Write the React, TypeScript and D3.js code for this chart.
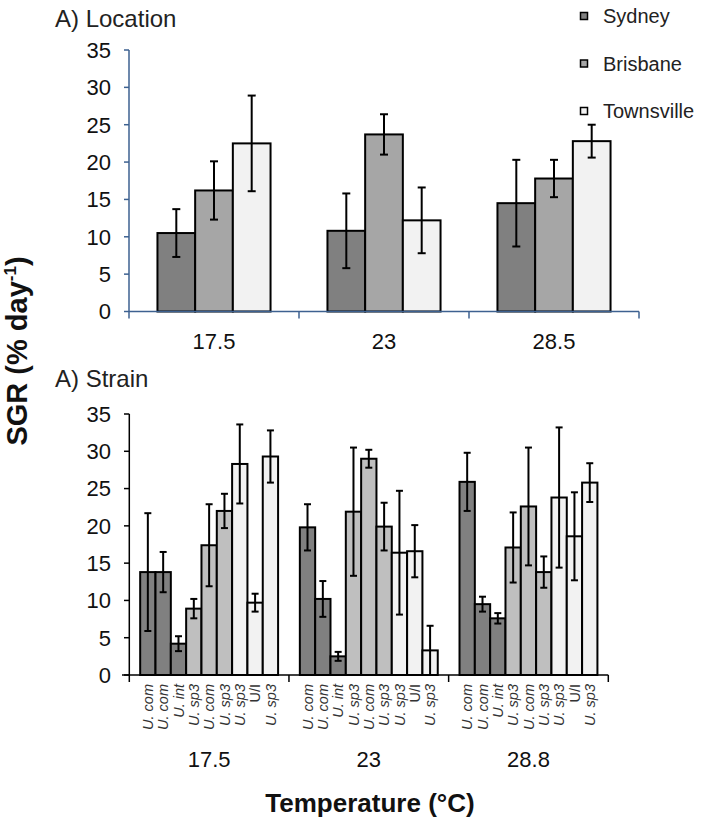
import React from "react";
import * as d3 from "d3";

// ---------- Data ----------
const tempGroupsTop = ["17.5", "23", "28.5"];
const locations = ["Sydney", "Brisbane", "Townsville"];
const sydneyMean = [10.5, 10.8, 14.5];
const sydneyErr = [3.2, 5.0, 5.8];
const brisbaneMean = [16.2, 23.7, 17.8];
const brisbaneErr = [3.9, 2.7, 2.5];
const townsvilleMean = [22.5, 12.2, 22.8];
const townsvilleErr = [6.4, 4.4, 2.2];

const tempGroupsBottom = ["17.5", "23", "28.8"];
const strainLabels = ["U. com", "U. com", "U. int", "U. sp3", "U. com", "U. sp3", "U. sp3", "U/I", "U. sp3"];
const strainOrigin = ["Sydney", "Sydney", "Sydney", "Brisbane", "Brisbane", "Brisbane", "Townsville", "Townsville", "Townsville"];
const strainMean175 = [13.8, 13.8, 4.2, 8.9, 17.4, 22.0, 28.3, 9.7, 29.3];
const strainErr175 = [7.9, 2.7, 1.0, 1.3, 5.5, 2.3, 5.3, 1.2, 3.5];
const strainMean23 = [19.8, 10.2, 2.5, 21.9, 29.0, 19.9, 16.4, 16.6, 3.3];
const strainErr23 = [3.1, 2.4, 0.6, 8.6, 1.2, 3.2, 8.3, 3.5, 3.3];
const strainMean288 = [25.9, 9.5, 7.6, 17.1, 22.6, 13.8, 23.8, 18.6, 25.8];
const strainErr288 = [3.9, 1.0, 0.7, 4.7, 7.9, 2.1, 9.4, 5.9, 2.6];

const yTicks = [0, 5, 10, 15, 20, 25, 30, 35];

const FONT = "'Liberation Sans', Arial, Helvetica, sans-serif";

export default function App() {
  const topColors: Record<string, string> = { Sydney: "#808080", Brisbane: "#a6a6a6", Townsville: "#f2f2f2" };
  const botColors: Record<string, string> = { Sydney: "#808080", Brisbane: "#bfbfbf", Townsville: "#f2f2f2" };

  // ---- top chart scales ----
  const xTop = d3.scaleBand().domain(tempGroupsTop).range([129, 639]).paddingInner(0).paddingOuter(0);
  const xTopInner = d3.scaleBand().domain(locations).range([0, xTop.bandwidth()]).paddingInner(0).paddingOuter(0.755);
  const yTop = d3.scaleLinear().domain([0, 35]).range([311.5, 50]);
  const topMeans = [sydneyMean, brisbaneMean, townsvilleMean];
  const topErrs = [sydneyErr, brisbaneErr, townsvilleErr];
  const topData = tempGroupsTop.flatMap((g, gi) =>
    locations.map((loc, li) => ({ g, loc, mean: topMeans[li][gi], err: topErrs[li][gi] }))
  );

  // ---- bottom chart scales ----
  const xBot = d3.scaleBand().domain(tempGroupsBottom).range([129.3, 608.3]).paddingInner(0).paddingOuter(0);
  const strainIdx = strainLabels.map((_, i) => String(i));
  const xBotInner = d3.scaleBand().domain(strainIdx).range([0, xBot.bandwidth()]).paddingInner(0).paddingOuter(0.71);
  const yBot = d3.scaleLinear().domain([0, 35]).range([675, 414]);
  const botMeans = [strainMean175, strainMean23, strainMean288];
  const botErrs = [strainErr175, strainErr23, strainErr288];
  const botData = tempGroupsBottom.flatMap((g, gi) =>
    strainIdx.map((s, si) => ({ g, s, si, mean: botMeans[gi][si], err: botErrs[gi][si] }))
  );

  const axisTop = "#3d6190";

  return (
    <svg width={702} height={834} style={{ position: "absolute", left: 0, top: 0, background: "#fff" }} fontFamily={FONT}>
      <rect x={0} y={0} width={702} height={834} fill="#fff" />

      {/* ===== Top chart ===== */}
      <text x={55} y={27} fontSize={24} fill="#222">A) Location</text>

      {/* bars */}
      {topData.map((d, i) => {
        const x = (xTop(d.g) as number) + (xTopInner(d.loc) as number);
        const w = xTopInner.bandwidth();
        return (
          <rect key={"tb" + i} x={x} y={yTop(d.mean)} width={w} height={yTop(0) - yTop(d.mean)}
            fill={topColors[d.loc]} stroke="#000" strokeWidth={2} />
        );
      })}
      {/* error bars */}
      {topData.map((d, i) => {
        const cx = (xTop(d.g) as number) + (xTopInner(d.loc) as number) + xTopInner.bandwidth() / 2;
        const y1 = yTop(d.mean + d.err);
        const y2 = yTop(d.mean - d.err);
        return (
          <g key={"te" + i} stroke="#000" strokeWidth={2}>
            <line x1={cx} x2={cx} y1={y1} y2={y2} />
            <line x1={cx - 4} x2={cx + 4} y1={y1} y2={y1} />
            <line x1={cx - 4} x2={cx + 4} y1={y2} y2={y2} />
          </g>
        );
      })}
      {/* y axis */}
      <line x1={129} x2={129} y1={yTop(35)} y2={yTop(0)} stroke={axisTop} strokeWidth={1.5} />
      {yTicks.map((t) => (
        <g key={"tyt" + t}>
          <line x1={124} x2={129} y1={yTop(t)} y2={yTop(t)} stroke={axisTop} strokeWidth={1.5} />
          <text x={111} y={yTop(t)} dy="0.36em" textAnchor="end" fontSize={22} fill="#111">{t}</text>
        </g>
      ))}
      {/* x axis */}
      <line x1={129} x2={639} y1={yTop(0)} y2={yTop(0)} stroke={axisTop} strokeWidth={1.5} />
      {[...tempGroupsTop.map((g) => xTop(g) as number), 639].map((x, i) => (
        <line key={"txt" + i} x1={x} x2={x} y1={yTop(0)} y2={yTop(0) + 7} stroke={axisTop} strokeWidth={1.5} />
      ))}
      {tempGroupsTop.map((g) => (
        <text key={"txl" + g} x={(xTop(g) as number) + xTop.bandwidth() / 2} y={349} textAnchor="middle" fontSize={22} fill="#111">{g}</text>
      ))}

      {/* legend */}
      {locations.map((loc, i) => (
        <g key={"lg" + loc}>
          <rect x={580.5} y={12.5 + i * 47.5} width={7} height={7} fill={topColors[loc]} stroke="#000" strokeWidth={1.5} />
          <text x={603} y={16 + i * 47.5} dy="0.35em" fontSize={20} fill="#222">{loc}</text>
        </g>
      ))}

      {/* ===== Bottom chart ===== */}
      <text x={55} y={387} fontSize={24} fill="#222">A) Strain</text>

      {botData.map((d, i) => {
        const x = (xBot(d.g) as number) + (xBotInner(d.s) as number);
        const w = xBotInner.bandwidth();
        return (
          <rect key={"bb" + i} x={x} y={yBot(d.mean)} width={w} height={yBot(0) - yBot(d.mean)}
            fill={botColors[strainOrigin[d.si]]} stroke="#000" strokeWidth={2} />
        );
      })}
      {botData.map((d, i) => {
        const cx = (xBot(d.g) as number) + (xBotInner(d.s) as number) + xBotInner.bandwidth() / 2;
        const y1 = yBot(d.mean + d.err);
        const y2 = yBot(d.mean - d.err);
        return (
          <g key={"be" + i} stroke="#000" strokeWidth={2}>
            <line x1={cx} x2={cx} y1={y1} y2={y2} />
            <line x1={cx - 3.5} x2={cx + 3.5} y1={y1} y2={y1} />
            <line x1={cx - 3.5} x2={cx + 3.5} y1={y2} y2={y2} />
          </g>
        );
      })}
      {/* y axis */}
      <line x1={129.3} x2={129.3} y1={yBot(35)} y2={yBot(0)} stroke="#000" strokeWidth={1.5} />
      {yTicks.map((t) => (
        <g key={"byt" + t}>
          <line x1={124} x2={129.3} y1={yBot(t)} y2={yBot(t)} stroke="#000" strokeWidth={1.5} />
          <text x={111} y={yBot(t)} dy="0.36em" textAnchor="end" fontSize={22} fill="#111">{t}</text>
        </g>
      ))}
      {/* x axis */}
      <line x1={122} x2={608.3} y1={yBot(0)} y2={yBot(0)} stroke="#000" strokeWidth={1.5} />
      {[...tempGroupsBottom.map((g) => xBot(g) as number), 608.3].map((x, i) => (
        <line key={"bxt" + i} x1={x} x2={x} y1={yBot(0)} y2={yBot(0) + 7} stroke="#000" strokeWidth={1.5} />
      ))}
      {botData.map((d, i) => {
        const cx = (xBot(d.g) as number) + (xBotInner(d.s) as number) + xBotInner.bandwidth() / 2;
        const lab = strainLabels[d.si];
        return (
          <text key={"bl" + i} transform={`translate(${cx},684) rotate(-90)`} textAnchor="end" dy="0.35em"
            fontSize={14.5} fontStyle={lab === "U/I" ? "normal" : "italic"} fill="#333">{lab}</text>
        );
      })}
      {tempGroupsBottom.map((g) => (
        <text key={"bxl" + g} x={(xBot(g) as number) + xBot.bandwidth() / 2} y={767} textAnchor="middle" fontSize={22} fill="#111">{g}</text>
      ))}

      {/* axis titles */}
      <text transform="translate(27,351) rotate(-90)" textAnchor="middle" fontSize={29} fontWeight="bold" fill="#111">
        SGR (% day<tspan fontSize={17} dy="-11">-1</tspan><tspan dy="11">)</tspan>
      </text>
      <text x={370} y={812} textAnchor="middle" fontSize={26} fontWeight="bold" fill="#111">Temperature (°C)</text>
    </svg>
  );
}
